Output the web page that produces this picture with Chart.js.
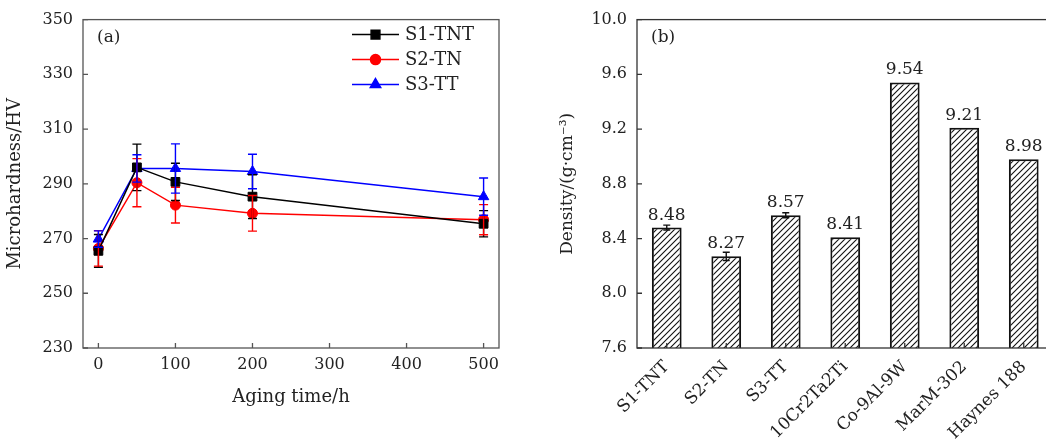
<!DOCTYPE html>
<html>
<head>
<meta charset="utf-8">
<script src="https://cdn.jsdelivr.net/npm/chart.js@4.4.1/dist/chart.umd.min.js"></script>
<style>
  body { margin: 0; background: #fff; overflow: hidden; width: 1046px; height: 448px; position: relative; }
  canvas { position: absolute; top: 0; }
  #hardness-area { left: 0; }
  #density-area { left: 520px; }
</style>
</head>
<body>
<canvas id="hardness-area" width="520" height="448"></canvas>
<canvas id="density-area" width="540" height="448"></canvas>
<script>
// (a) microhardness vs aging time
var agingTimes = [0, 50, 100, 200, 500];
var s1Hardness = [265.5, 296.0, 290.7, 285.3, 275.4];
var s1Error = [6.0, 8.5, 6.8, 8.0, 4.8];
var s2Hardness = [266.4, 290.4, 282.2, 279.2, 276.9];
var s2Error = [6.5, 8.8, 6.5, 6.5, 5.5];
var s3Hardness = [269.8, 295.6, 295.6, 294.5, 285.3];
var s3Error = [3.0, 5.0, 9.0, 6.3, 6.8];

// (b) density of alloys
var alloys = ['S1-TNT', 'S2-TN', 'S3-TT', '10Cr2Ta2Ti', 'Co-9Al-9W', 'MarM-302', 'Haynes 188'];
var density = [8.48, 8.27, 8.57, 8.41, 9.54, 9.21, 8.98];
var densityError = [0.018, 0.03, 0.018, 0, 0, 0, 0];

var FONT = "'DejaVu Serif', serif";
Chart.defaults.font.family = FONT;
Chart.defaults.font.size = 16;
Chart.defaults.color = '#222';

function toPoints(xs, ys) {
    var pts = [];
    for (var i = 0; i < xs.length; i++) {
        pts.push({ x: xs[i], y: ys[i] });
    }
    return pts;
}

//box around plot area + inward tick marks
var frameTicks = {
    id: 'frameTicks',
    afterDraw: function (c, args, opts) {
        var ctx = c.ctx, a = c.chartArea;
        var x = c.scales.x, y = c.scales.y;
        ctx.save();
        ctx.strokeStyle = opts.color || '#444';
        ctx.lineWidth = 1.3;
        ctx.strokeRect(a.left, a.top, a.right - a.left, a.bottom - a.top);
        ctx.beginPath();
        for (var i = 0; i < x.ticks.length; i++) {
            var px = x.getPixelForTick(i);
            ctx.moveTo(px, a.bottom);
            ctx.lineTo(px, a.bottom - 5);
        }
        for (var j = 0; j < y.ticks.length; j++) {
            var py = y.getPixelForTick(j);
            ctx.moveTo(a.left, py);
            ctx.lineTo(a.left + 5, py);
        }
        ctx.stroke();
        if (opts.panel) {
            ctx.fillStyle = '#222';
            ctx.font = '17px ' + FONT;
            ctx.textBaseline = 'middle';
            ctx.textAlign = 'left';
            ctx.fillText(opts.panel, a.left + 14, a.top + 18);
        }
        ctx.restore();
    }
};

//error bars, read from dataset.errors
var errorBars = {
    id: 'errorBars',
    afterDatasetsDraw: function (c, args, opts) {
        var ctx = c.ctx;
        c.data.datasets.forEach(function (ds, di) {
            if (!ds.errors) return;
            var meta = c.getDatasetMeta(di);
            var yScale = c.scales[meta.yAxisID];
            ctx.save();
            ctx.strokeStyle = ds.errorColor || ds.borderColor;
            ctx.lineWidth = 1.4;
            meta.data.forEach(function (el, i) {
                var e = ds.errors[i];
                if (!e) return;
                var v = meta.controller.getParsed(i).y;
                var top = yScale.getPixelForValue(v + e);
                var bot = yScale.getPixelForValue(v - e);
                var w = opts.cap || 4.5;
                ctx.beginPath();
                ctx.moveTo(el.x, top); ctx.lineTo(el.x, bot);
                ctx.moveTo(el.x - w, top); ctx.lineTo(el.x + w, top);
                ctx.moveTo(el.x - w, bot); ctx.lineTo(el.x + w, bot);
                ctx.stroke();
            });
            ctx.restore();
        });
    }
};

//legend drawn inside the plot area, line + marker like the original figure
var lineLegend = {
    id: 'lineLegend',
    afterDraw: function (c) {
        var ctx = c.ctx, a = c.chartArea;
        var x0 = a.right - 147, y0 = a.top + 15, gap = 25;
        ctx.save();
        c.data.datasets.forEach(function (ds, i) {
            var yy = y0 + i * gap;
            ctx.strokeStyle = ds.borderColor;
            ctx.fillStyle = ds.backgroundColor;
            ctx.lineWidth = 1.5;
            ctx.beginPath();
            ctx.moveTo(x0, yy); ctx.lineTo(x0 + 47, yy);
            ctx.stroke();
            Chart.helpers.drawPoint(ctx, {
                pointStyle: ds.pointStyle, radius: ds.pointRadius, rotation: 0, borderWidth: 1
            }, x0 + 23.5, yy);
            ctx.fillStyle = '#222';
            ctx.font = '18px ' + FONT;
            ctx.textBaseline = 'middle';
            ctx.fillText(ds.label, x0 + 53, yy + 1);
        });
        ctx.restore();
    }
};

//numbers on top of bars
var barValues = {
    id: 'barValues',
    afterDatasetsDraw: function (c) {
        var ctx = c.ctx;
        var meta = c.getDatasetMeta(0);
        ctx.save();
        ctx.fillStyle = '#222';
        ctx.font = '17px ' + FONT;
        ctx.textAlign = 'center';
        ctx.textBaseline = 'bottom';
        meta.data.forEach(function (el, i) {
            ctx.fillText(density[i].toFixed(2), el.x, el.y - 4);
        });
        ctx.restore();
    }
};

function lineDataset(label, color, style, radius, values, errors) {
    return {
        label: label,
        data: toPoints(agingTimes, values),
        errors: errors,
        borderColor: color,
        backgroundColor: color,
        borderWidth: 1.5,
        pointStyle: style,
        pointRadius: radius,
        pointBorderWidth: 1,
        tension: 0
    };
}

var hardnessChart = new Chart(document.getElementById('hardness-area').getContext('2d'), {
    type: 'line',
    plugins: [errorBars, frameTicks, lineLegend],
    data: {
        datasets: [
            lineDataset('S1-TNT', '#000000', 'rect', 6.2, s1Hardness, s1Error),
            lineDataset('S2-TN', '#ff0000', 'circle', 5, s2Hardness, s2Error),
            lineDataset('S3-TT', '#0000ff', 'triangle', 6, s3Hardness, s3Error)
        ]
    },
    options: {
        responsive: false,
        animation: false,
        layout: { padding: { left: 5, top: 14, right: 21, bottom: 40 } },
        plugins: {
            legend: { display: false },
            tooltip: { enabled: false },
            frameTicks: { panel: '(a)', color: '#555' },
            errorBars: { cap: 4.5 }
        },
        scales: {
            x: {
                type: 'linear',
                min: -20, max: 520,
                grid: { display: false, drawTicks: false },
                border: { display: false },
                ticks: { stepSize: 100, includeBounds: false, padding: 7 },
                title: { display: true, text: 'Aging time/h', padding: 0, font: { size: 18 } },
                afterFit: function (s) { s.height = 60; }
            },
            y: {
                min: 230, max: 350,
                grid: { display: false, drawTicks: false },
                border: { display: false },
                ticks: { stepSize: 20, padding: 10 },
                title: { display: true, text: 'Microhardness/HV', padding: 0, font: { size: 18 } },
                afterFit: function (s) { s.width = 78; }
            }
        }
    }
});

var densityCtx = document.getElementById('density-area').getContext('2d');

function makeHatch(ctx) {
    var tile = document.createElement('canvas');
    tile.width = 6; tile.height = 6;
    var g = tile.getContext('2d');
    g.fillStyle = '#fff';
    g.fillRect(0, 0, 6, 6);
    g.strokeStyle = '#111';
    g.lineWidth = 1.1;
    g.beginPath();
    g.moveTo(-1, 7); g.lineTo(7, -1);
    g.moveTo(-1, 1); g.lineTo(1, -1);
    g.moveTo(5, 7); g.lineTo(7, 5);
    g.stroke();
    return ctx.createPattern(tile, 'repeat');
}

var densityChart = new Chart(densityCtx, {
    type: 'bar',
    plugins: [errorBars, barValues, frameTicks],
    data: {
        labels: alloys,
        datasets: [{
            label: 'Density',
            data: density,
            errors: densityError,
            errorColor: '#111',
            backgroundColor: makeHatch(densityCtx),
            borderColor: '#111',
            borderWidth: 2,
            borderSkipped: false,
            categoryPercentage: 1,
            barPercentage: 0.5
        }]
    },
    options: {
        responsive: false,
        animation: false,
        layout: { padding: { left: 37, top: 14, right: 6.5, bottom: 0 } },
        plugins: {
            legend: { display: false },
            tooltip: { enabled: false },
            frameTicks: { panel: '(b)', color: '#333' },
            errorBars: { cap: 3.5 }
        },
        scales: {
            x: {
                grid: { display: false, drawTicks: false },
                border: { display: false },
                ticks: { autoSkip: false, minRotation: 45, maxRotation: 45, padding: 9, font: { size: 17 } },
                afterFit: function (s) { s.height = 100; }
            },
            y: {
                min: 7.6, max: 10.0,
                grid: { display: false, drawTicks: false },
                border: { display: false },
                ticks: {
                    stepSize: 0.4, padding: 10,
                    callback: function (v) { return Number(v).toFixed(1); }
                },
                title: { display: true, text: 'Density/(g·cm⁻³)', padding: 0, font: { size: 17 } },
                afterFit: function (s) { s.width = 80; }
            }
        }
    }
});
</script>
</body>
</html>
